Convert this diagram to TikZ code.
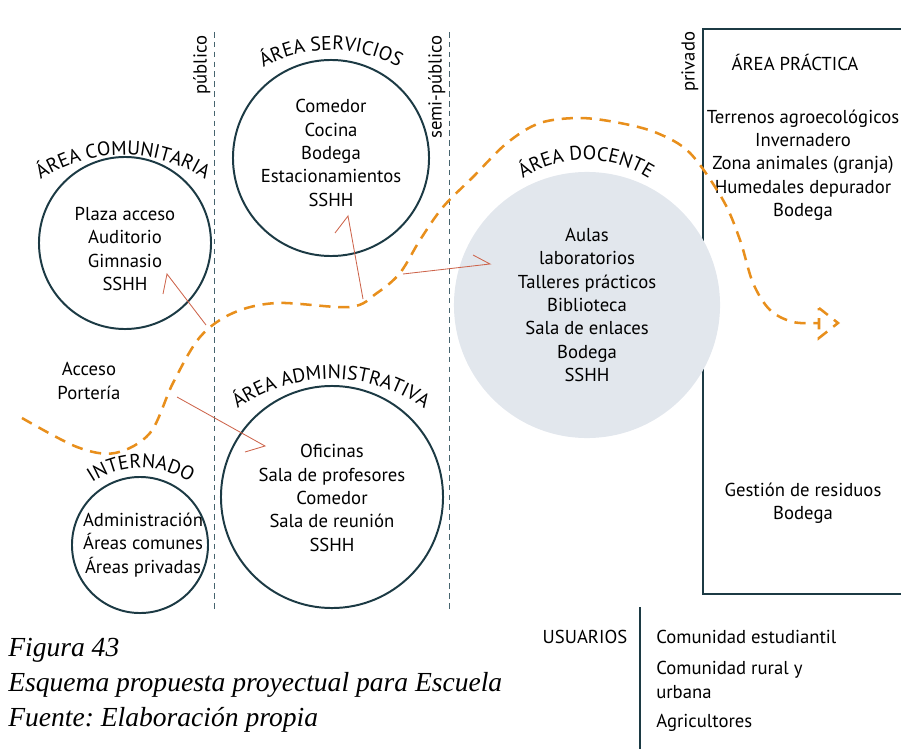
\documentclass[tikz,border=0pt]{standalone}
\usepackage{fontspec}
\setsansfont{PT Sans}
\newfontfamily\captionfont{Liberation Serif}
\usetikzlibrary{arrows.meta,positioning,decorations.text}
\definecolor{zoneline}{RGB}{28,58,68}
\definecolor{docentefill}{RGB}{226,231,237}
\definecolor{flowamber}{RGB}{232,143,28}
\definecolor{pointred}{RGB}{205,100,75}
\definecolor{limitgray}{RGB}{70,100,110}
\frenchspacing

\begin{document}
\begin{tikzpicture}[x=0.025cm, y=0.025cm,
  zone/.style={circle, draw=zoneline, line width=1.4pt, inner sep=0pt, outer sep=0pt},
  lista/.style={align=center, font=\fontsize{13.3}{16.6}\selectfont\sffamily, inner sep=0pt},
  limite/.style={limitgray, line width=0.6pt, dash pattern=on 4pt off 3pt},
  flujo/.style={flowamber, line width=1.8pt, dash pattern=on 8pt off 5.5pt},
  puntero/.style={pointred, line width=0.6pt},
  titulo/.style={decorate, decoration={text along path, text align=center,
    text={|\fontsize{14}{15}\selectfont\sffamily|#1}}}]

\useasboundingbox (0,0) rectangle (901,-749);

%% ── LIMITS: público / semi-público / privado ─────────────────────────────
\draw[limite] (214,-32) -- (214,-610);
\draw[limite] (449,-32) -- (449,-610);
\node[lista, rotate=90, anchor=south east, inner sep=1pt] (publico) at (212,-34) {público};
\node[lista, rotate=90, anchor=south east, inner sep=1pt] (semipublico) at (447,-34) {semi-público};
\node[lista, rotate=90, anchor=south east, inner sep=1pt] (privado) at (700,-30) {privado};

% Área práctica frame (open to the right)
\draw[zoneline, line width=1.4pt] (901,-29) -- (703,-29) -- (703,-594) -- (901,-594);

%% ── ZONES ─────────────────────────────────────────────────────────────────
\node[zone, minimum size=4.3cm] (comunitaria) at (125,-243) {};
\node[zone, minimum size=4.9cm] (servicios) at (331,-158) {};
\node[circle, fill=docentefill, minimum size=6.65cm, inner sep=0pt] (docente) at (587,-305) {};
\node[zone, minimum size=5.55cm] (administrativa) at (332,-497) {};
\node[zone, minimum size=3.4cm] (internado) at (140,-545) {};

% Curved titles
\path[titulo=ÁREA COMUNITARIA] (123,-305) ++(160:150) arc (160:20:150);
\path[titulo=ÁREA SERVICIOS] (331,-190) ++(160:140) arc (160:20:140);
\path[titulo=ÁREA DOCENTE] (586,-277) ++(165:117) arc (165:15:117);
\path[titulo=ÁREA ADMINISTRATIVA] (331,-541) ++(160:162) arc (160:20:162);
\path[titulo=INTERNADO] (141,-556) ++(165:88) arc (165:15:88);

% Zone contents
\node[lista] (comunitariaTxt) at (125,-249) {Plaza acceso\\Auditorio\\Gimnasio\\SSHH};
\node[lista] (serviciosTxt) at (331,-153) {Comedor\\Cocina\\Bodega\\Estacionamientos\\SSHH};
\node[lista] (docenteTxt) at (587,-305) {Aulas\\laboratorios\\Talleres prácticos\\Biblioteca\\Sala de enlaces\\Bodega\\SSHH};
\node[lista] (administrativaTxt) at (332,-498) {Oficinas\\Sala de profesores\\Comedor\\Sala de reunión\\SSHH};
\node[lista] (internadoTxt) at (143,-545) {Administración\\Áreas comunes\\Áreas privadas};
\node[lista] (acceso) at (89,-381) {Acceso\\Portería};

\node[lista] (practica) at (795,-62) {ÁREA PRÁCTICA};
\node[lista] (practicaTxt) at (803,-165) {Terrenos agroecológicos\\Invernadero\\Zona animales (granja)\\Humedales depurador\\Bodega};
\node[lista] (residuos) at (803,-503) {Gestión de residuos\\Bodega};

%% ── CIRCULATION ───────────────────────────────────────────────────────────
\draw[flujo] plot[smooth, tension=0.55] coordinates {
  (22,-418) (77,-447) (115,-453) (150,-433) (173,-383) (200,-337)
  (233,-313) (277,-303) (350,-307) (377,-293) (400,-273) (420,-240)
  (443,-207) (473,-177) (507,-143) (540,-123) (580,-118) (620,-123)
  (657,-133) (690,-153) (723,-200) (740,-240) (753,-283) (770,-310)
  (793,-322) (819,-323)};
\draw[flujo] (819,-308) -- (838,-323) -- (819,-338) -- cycle;

% Pointers from the path into the zones
\coordinate (f1) at (206,-325); \coordinate (t1) at (167,-274);
\coordinate (f2) at (363,-299); \coordinate (t2) at (348,-216);
\coordinate (f3) at (403,-274); \coordinate (t3) at (490,-264);
\coordinate (f4) at (177,-397); \coordinate (t4) at (265,-446);
\draw[puntero] (f1) -- (t1) -- ++(-4,-20);
\draw[puntero] (f2) -- (t2) -- ++(-13,-17);
\draw[puntero] (f3) -- (t3) -- ++(-17,9);
\draw[puntero] (f4) -- (t4) -- ++(-20,-6);

%% ── USERS ─────────────────────────────────────────────────────────────────
\node[lista] (usuarios) at (585,-637) {USUARIOS};
\draw[zoneline, line width=1.4pt] (640,-607) -- (640,-749);
\node[lista, align=left, anchor=west] (estudiantil) at (656,-637) {Comunidad estudiantil};
\node[lista, align=left, anchor=west] (rural) at (656,-680) {Comunidad rural y\\urbana};
\node[lista, align=left, anchor=west] (agricultores) at (656,-723) {Agricultores};

%% ── CAPTION ───────────────────────────────────────────────────────────────
\node[anchor=north west, align=left, inner sep=0pt,
      font=\fontsize{19.6}{24.8}\selectfont\captionfont\itshape] (figura) at (8,-638)
  {Figura 43\\Esquema propuesta proyectual para Escuela\\Fuente: Elaboración propia};

\end{tikzpicture}
\end{document}
